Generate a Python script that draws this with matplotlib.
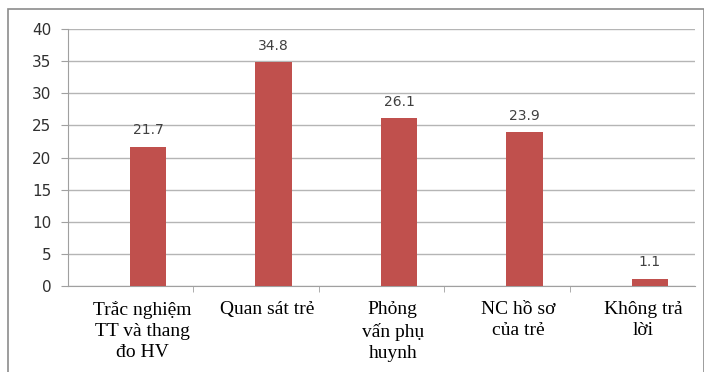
import matplotlib.pyplot as plt
from matplotlib.patches import Rectangle

# data
categories = ["Trắc nghiệm\nTT và thang\nđo HV", "Quan sát trẻ", "Phỏng\nvấn phụ\nhuynh",
              "NC hồ sơ\ncủa trẻ", "Không trả\nlời"]
values = [21.7, 34.8, 26.1, 23.9, 1.1]
yticks = [0, 5, 10, 15, 20, 25, 30, 35, 40]

fig = plt.figure(figsize=(7.04, 3.72), dpi=100)
ax = fig.add_axes([68/704, 1-286/372, (695-68)/704, (286-29)/372])

# outer frame of the chart area
fig.patches.append(Rectangle((8/704, -0.1), 1.0-8/704, 1.1-9/372, transform=fig.transFigure,
                             fill=False, edgecolor="#8c8c8c", linewidth=1.2))

# bars sit a bit right of the category centre (like excel with an empty 2nd series)
x = [i + 0.14 for i in range(len(categories))]
ax.bar(x, values, width=0.29, color="#C0504D", zorder=3)
for xi, v in zip(x, values):
    ax.annotate(f"{v}", (xi, v), xytext=(0, 7), textcoords="offset points",
                ha="center", va="bottom", fontsize=10, color="#404040")

ax.set_xlim(-0.5, 4.5)
ax.set_ylim(0, 40)
ax.set_yticks(yticks)
ax.yaxis.grid(True, color="#b5b5b5", linewidth=1)
ax.set_axisbelow(True)
for s in ["top", "right"]:
    ax.spines[s].set_visible(False)
ax.spines["left"].set_color("#a0a0a0")
ax.spines["bottom"].set_color("#a0a0a0")
ax.tick_params(axis="y", colors="#a0a0a0", labelcolor="#303030", labelsize=11, length=5, pad=7)

ax.set_xticks([])
ax.set_xticks([0.5, 1.5, 2.5, 3.5], minor=True)
ax.tick_params(axis="x", which="minor", length=4, color="#a0a0a0")

for xi, lab in zip(x, categories):
    ax.text(xi - 0.05, -2.4, lab, ha="center", va="top", fontsize=14, family="Liberation Serif",
            linespacing=1.3, color="black")

fig.savefig("out.png", dpi=100)
